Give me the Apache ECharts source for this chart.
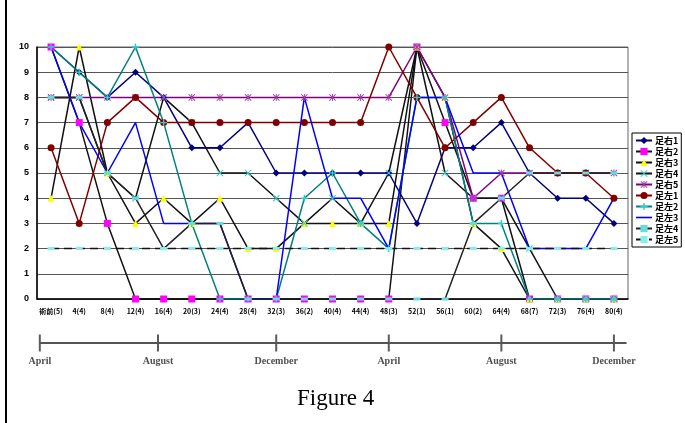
<!DOCTYPE html>
<html lang="ja">
<head>
    <meta charset="UTF-8">
    <title>Figure 4</title>
    <style>
        * { margin: 0; padding: 0; box-sizing: border-box; }
        body { width: 685px; height: 423px; background: #fff; position: relative; overflow: hidden; }
        /* 左の枠線 */
        .frame-left { position: absolute; left: 5px; top: 0; width: 2px; height: 423px; background: #000; }
        #chart { position: absolute; left: 0; top: 0; width: 685px; height: 423px; }
    </style>
</head>
<body>
    <div class="frame-left"></div>
    <div id="chart"></div>

    <script src="https://cdn.jsdelivr.net/npm/echarts@6/dist/echarts.min.js"></script>
    <script>
        // カテゴリ (週)
        const categories = ['術前(5)', '4(4)', '8(4)', '12(4)', '16(4)', '20(3)', '24(4)', '28(4)', '32(3)', '36(2)', '40(4)',
            '44(4)', '48(3)', '52(1)', '56(1)', '60(2)', '64(4)', '68(7)', '72(3)', '76(4)', '80(4)'];

        const right1 = [10, 9, 8, 9, 8, 6, 6, 7, 5, 5, 5, 5, 5, 3, 6, 6, 7, 5, 4, 4, 3];
        const right2 = [10, 7, 3, 0, 0, 0, 0, 0, 0, 0, 0, 0, 0, 10, 7, 4, 4, 0, 0, 0, 0];
        const right3 = [4, 10, 5, 3, 4, 3, 4, 2, 2, 3, 3, 3, 3, 10, 8, 3, 2, 0, 0, 0, 0];
        const right4 = [8, 8, 5, 4, 8, 7, 5, 5, 4, 3, 4, 3, 5, 10, 5, 4, 4, 2, 0, 0, 0];
        const right5 = [8, 8, 8, 8, 8, 8, 8, 8, 8, 8, 8, 8, 8, 10, 8, 4, 5, 5, 5, 5, 5];
        const left1 = [6, 3, 7, 8, 7, 7, 7, 7, 7, 7, 7, 7, 10, 8, 6, 7, 8, 6, 5, 5, 4];
        const left2 = [10, 9, 8, 10, 7, 3, 0, 0, 0, 4, 5, 3, 2, 8, 8, 3, 3, 0, 0, 0, 0];
        const left3 = [10, 7, 5, 7, 3, 3, 3, 0, 0, 8, 4, 4, 2, 8, 8, 5, 5, 2, 2, 2, 4];
        const left4 = [8, 8, 5, 4, 2, 3, 3, 0, 0, 0, 0, 0, 0, 0, 0, 3, 4, 5, 5, 5, 5];
        const left5 = [2, 2, 2, 2, 2, 2, 2, 2, 2, 2, 2, 2, 2, 2, 2, 2, 2, 2, 2, 2, 2];

        const yTicks = [0, 1, 2, 3, 4, 5, 6, 7, 8, 9, 10];

        // 下の時間軸 (カテゴリ番号の位置)
        const monthNames = ['April', 'August', 'December', 'April', 'August', 'December'];
        const monthPos = [-0.4, 3.8, 8, 12, 16, 20];
        const timelineSpan = [-0.4, 20.45];

        const markX = 'path://M0,1L1,0L5,4L9,0L10,1L6,5L10,9L9,10L5,6L1,10L0,9L4,5Z';
        const markStar = 'path://M0,1L1,0L5,4L9,0L10,1L6,5L10,9L9,10L5,6L1,10L0,9L4,5Z M4.3,0h1.4v10h-1.4z';
        const markPlus = 'path://M4,0h2v4h4v2h-4v4h-2v-4h-4v-2h4z';

        function line(name, data, lineColor, markColor, symbol, size, extra) {
            return Object.assign({
                name: name,
                type: 'line',
                data: data,
                symbol: symbol,
                symbolSize: size,
                lineStyle: { color: lineColor, width: 1.5 },
                itemStyle: { color: markColor },
                xAxisIndex: 0,
                yAxisIndex: 0
            }, extra || {});
        }

        const chart = echarts.init(document.getElementById('chart'));
        chart.setOption({
            animation: false,
            grid: [
                { left: 37, right: 57, top: 47, bottom: 124, show: true, borderColor: '#666', borderWidth: 1 },
                { left: 37, right: 57, top: 335, height: 16 }
            ],
            legend: {
                orient: 'vertical',
                left: 632,
                top: 133,
                padding: [3, 3, 3, 3],
                itemGap: 2,
                itemWidth: 16,
                itemHeight: 9,
                borderColor: '#000',
                borderWidth: 1,
                textStyle: { fontSize: 9, fontWeight: 'bold', color: '#000', fontFamily: 'Noto Sans CJK JP', padding: [0, 0, 0, -2] },
                data: ['足右1', '足右2', '足右3', '足右4', '足右5', '足左1', '足左2',
                    { name: '足左3', icon: 'path://M0,0h20v2h-20z' }, '足左4', '足左5']
            },
            xAxis: [
                {
                    type: 'category',
                    gridIndex: 0,
                    data: categories,
                    axisLine: { lineStyle: { color: '#000', width: 1.5 } },
                    axisTick: { length: 3, lineStyle: { color: '#000' } },
                    axisLabel: { interval: 0, fontSize: 7, fontWeight: 'bold', color: '#000', margin: 9, fontFamily: 'Noto Sans CJK JP' },
                    splitLine: { show: false }
                },
                { type: 'value', gridIndex: 1, min: -0.5, max: 20.5, show: false }
            ],
            yAxis: [
                {
                    type: 'value',
                    gridIndex: 0,
                    min: yTicks[0],
                    max: yTicks[yTicks.length - 1],
                    interval: 1,
                    axisLine: { show: true, lineStyle: { color: '#000', width: 1.5 } },
                    axisTick: { show: false },
                    axisLabel: { fontSize: 9, fontWeight: 'bold', color: '#000', margin: 8, fontFamily: 'Liberation Sans' },
                    splitLine: { lineStyle: { color: '#555', width: 1 } }
                },
                { type: 'value', gridIndex: 1, min: -1, max: 1, show: false }
            ],
            series: [
                line('足右1', right1, '#000080', '#000080', 'diamond', 7),
                line('足右2', right2, '#111', '#ff00ff', 'rect', 7),
                line('足右3', right3, '#111', '#ffff00', 'triangle', 7),
                line('足右4', right4, '#111', '#33cccc', markX, 7),
                line('足右5', right5, '#800080', '#a040a0', markStar, 7),
                line('足左1', left1, '#800000', '#800000', 'circle', 7),
                line('足左2', left2, '#008080', '#33cccc', markPlus, 7),
                line('足左3', left3, '#0000ff', '#0000ff', 'none', 1),
                line('足左4', left4, '#222', '#66dddd', 'rect', [7, 3]),
                line('足左5', left5, '#111', '#88eeee', 'rect', [7, 3], { lineStyle: { color: '#111', width: 1.5, type: [8, 5] } }),
                // 時間軸の線
                {
                    type: 'line',
                    xAxisIndex: 1,
                    yAxisIndex: 1,
                    data: timelineSpan.map(function (v) { return [v, 0]; }),
                    symbol: 'none',
                    lineStyle: { color: '#555', width: 2 },
                    silent: true
                },
                // 月の目盛り
                {
                    type: 'scatter',
                    xAxisIndex: 1,
                    yAxisIndex: 1,
                    data: monthPos.map(function (v, i) { return { value: [v, 0], name: monthNames[i] }; }),
                    symbol: 'rect',
                    symbolSize: [2, 17],
                    itemStyle: { color: '#333' },
                    label: {
                        show: true,
                        position: 'bottom',
                        distance: 5,
                        formatter: '{b}',
                        fontFamily: 'Liberation Serif',
                        fontWeight: 'bold',
                        fontSize: 10,
                        color: '#222'
                    },
                    silent: true
                }
            ],
            graphic: [{
                type: 'text',
                left: 297,
                top: 387,
                style: { text: 'Figure 4', font: '23px "Liberation Serif"', fill: '#000' }
            }]
        });
    </script>
</body>
</html>
